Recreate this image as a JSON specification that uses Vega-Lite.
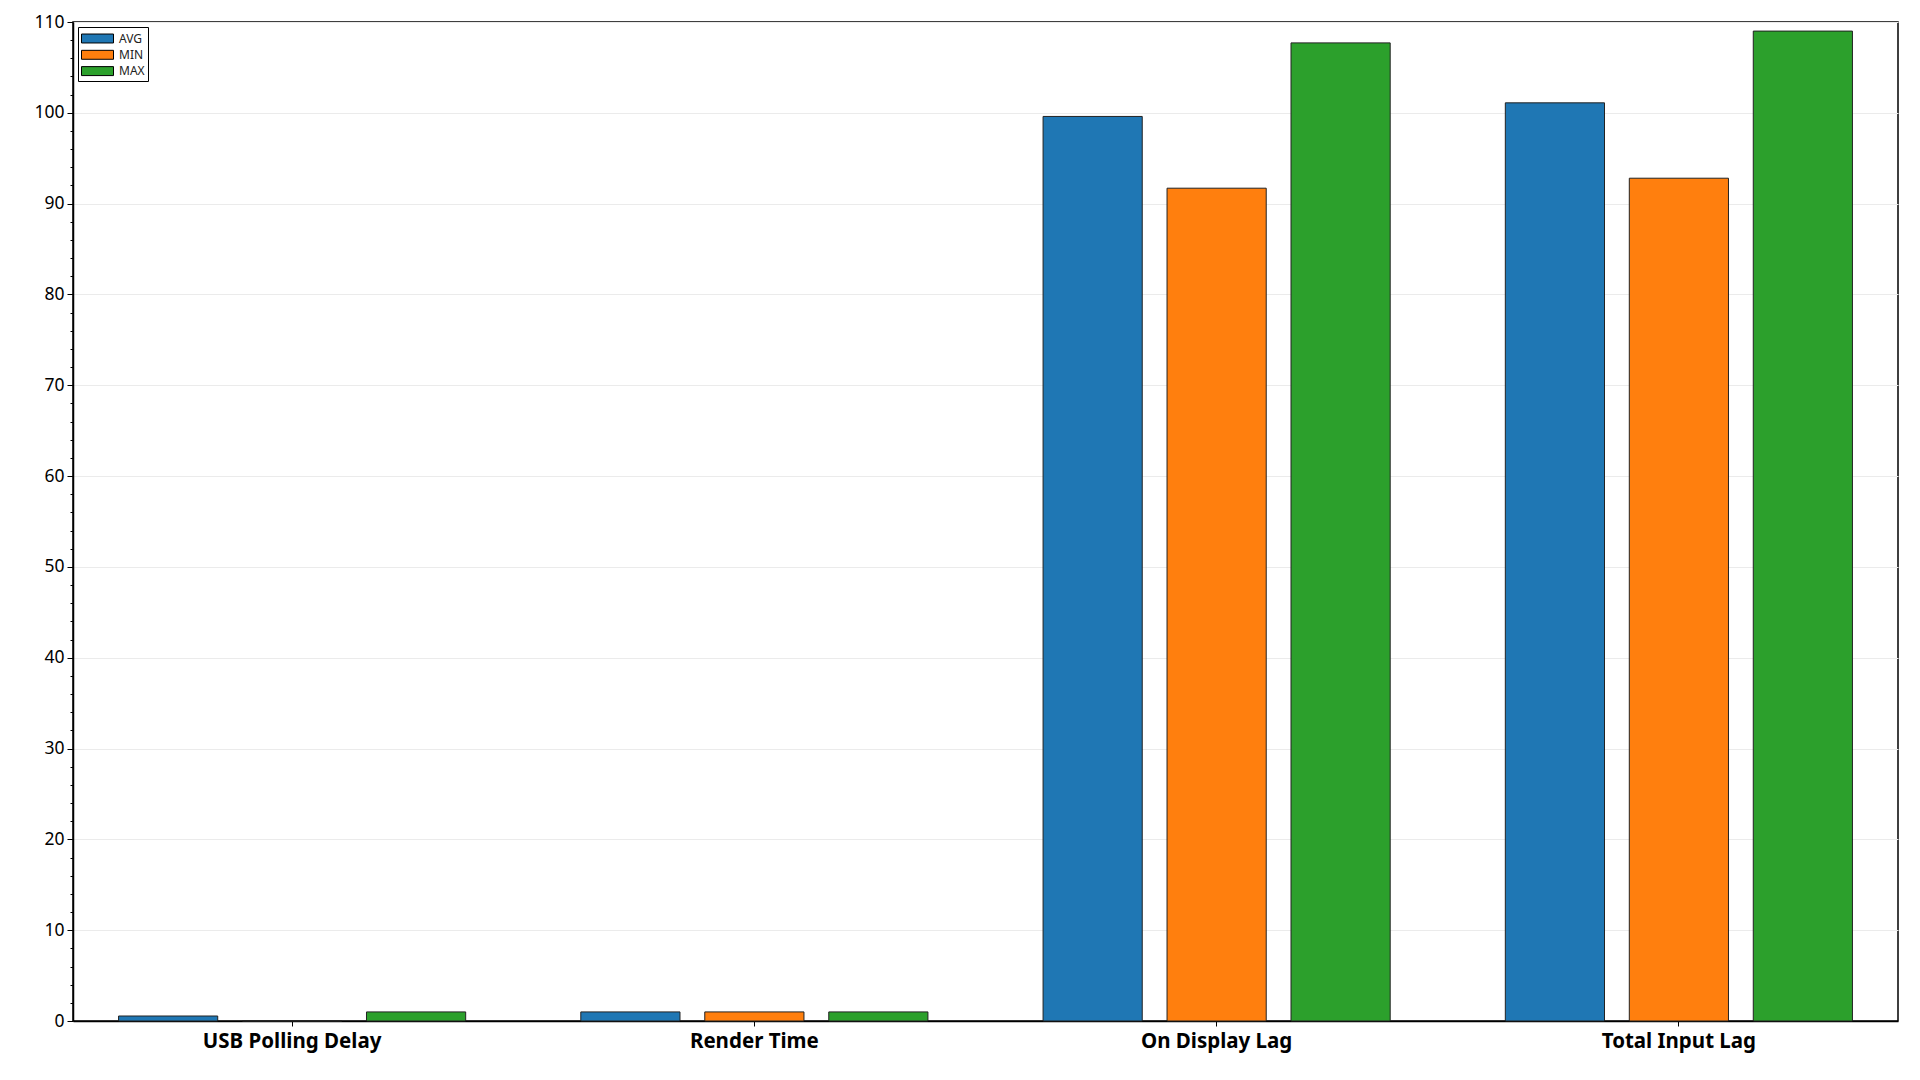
{
  "$schema": "https://vega.github.io/schema/vega-lite/v6.json",
  "width": 1825,
  "height": 999,
  "autosize": {"type": "none"},
  "padding": {"left": 73, "top": 22, "right": 22, "bottom": 59},
  "background": "white",
  "config": {
    "font": "Noto Sans",
    "view": {"stroke": "black", "strokeWidth": 1.5},
    "legend": {
      "orient": "top-left",
      "offset": 5,
      "strokeColor": "black",
      "strokeWidth": 1,
      "fillColor": "white",
      "padding": 3,
      "labelFontSize": 12,
      "labelColor": "#222",
      "labelOffset": 21,
      "symbolType": "M-1,-0.56L3,-0.56L3,0.56L-1,0.56Z",
      "symbolSize": 256,
      "symbolStrokeColor": "black",
      "symbolStrokeWidth": 1,
      "symbolOpacity": 1,
      "rowPadding": 1.3
    }
  },
  "data": {
    "values": [
      {"metric": "USB Polling Delay", "stat": "AVG", "value": 0.55},
      {"metric": "USB Polling Delay", "stat": "MIN", "value": 0.0},
      {"metric": "USB Polling Delay", "stat": "MAX", "value": 1.0},
      {"metric": "Render Time", "stat": "AVG", "value": 1.0},
      {"metric": "Render Time", "stat": "MIN", "value": 1.0},
      {"metric": "Render Time", "stat": "MAX", "value": 1.0},
      {"metric": "On Display Lag", "stat": "AVG", "value": 99.6},
      {"metric": "On Display Lag", "stat": "MIN", "value": 91.7},
      {"metric": "On Display Lag", "stat": "MAX", "value": 107.7},
      {"metric": "Total Input Lag", "stat": "AVG", "value": 101.1},
      {"metric": "Total Input Lag", "stat": "MIN", "value": 92.8},
      {"metric": "Total Input Lag", "stat": "MAX", "value": 109.0}
    ]
  },
  "encoding": {
    "x": {
      "field": "metric",
      "type": "nominal",
      "sort": ["USB Polling Delay", "Render Time", "On Display Lag", "Total Input Lag"],
      "scale": {"paddingInner": 0.052, "paddingOuter": 0},
      "axis": {
        "title": null,
        "labelAngle": 0,
        "labelFontSize": 20.5,
        "labelFontWeight": "bold",
        "labelColor": "black",
        "labelPadding": 5,
        "tickSize": 5,
        "tickColor": "black",
        "domainColor": "black",
        "domainWidth": 1.5,
        "grid": false
      }
    },
    "y": {
      "field": "value",
      "type": "quantitative",
      "scale": {"domain": [0, 110], "nice": false}
    }
  },
  "layer": [
    {
      "mark": {"type": "bar", "stroke": "#222", "strokeWidth": 1},
      "encoding": {
        "xOffset": {
          "field": "stat",
          "type": "nominal",
          "sort": ["AVG", "MIN", "MAX"],
          "scale": {"paddingInner": 0.2, "paddingOuter": 0.3674}
        },
        "y": {
          "field": "value",
          "type": "quantitative",
          "scale": {"domain": [0, 110], "nice": false},
          "axis": {
            "title": null,
            "values": [0, 10, 20, 30, 40, 50, 60, 70, 80, 90, 100, 110],
            "labelFontSize": 17.5,
            "labelColor": "black",
            "labelPadding": 3,
            "tickSize": 6,
            "tickColor": "black",
            "domainColor": "black",
            "domainWidth": 1.5,
            "grid": true,
            "gridColor": "#ebebeb",
            "gridWidth": 1
          }
        },
        "color": {
          "field": "stat",
          "type": "nominal",
          "sort": ["AVG", "MIN", "MAX"],
          "scale": {"domain": ["AVG", "MIN", "MAX"], "range": ["#1f77b4", "#ff7f0e", "#2ca02c"]},
          "legend": {"title": null}
        }
      }
    },
    {
      "mark": {"type": "point", "opacity": 0},
      "encoding": {
        "y": {
          "field": "value",
          "type": "quantitative",
          "scale": {"domain": [0, 110], "nice": false},
          "axis": {
            "orient": "left",
            "title": null,
            "values": [2, 4, 6, 8, 12, 14, 16, 18, 22, 24, 26, 28, 32, 34, 36, 38, 42, 44, 46, 48, 52, 54, 56, 58, 62, 64, 66, 68, 72, 74, 76, 78, 82, 84, 86, 88, 92, 94, 96, 98, 102, 104, 106, 108],
            "labels": false,
            "tickSize": 3,
            "tickColor": "black",
            "domain": false,
            "grid": false
          }
        }
      }
    }
  ],
  "resolve": {"axis": {"y": "independent"}}
}
